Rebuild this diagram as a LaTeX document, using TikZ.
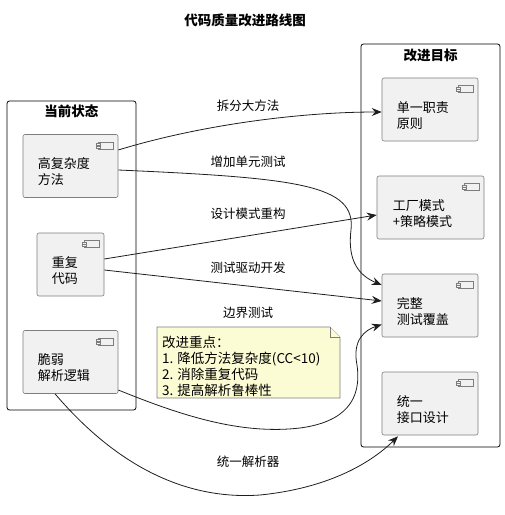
\documentclass[tikz,border=0pt]{standalone}
\usepackage{fontspec}
\setmainfont{Noto Sans CJK SC}
\usetikzlibrary{arrows.meta, positioning, calc}

\definecolor{compfill}{RGB}{241,241,241}
\definecolor{compline}{RGB}{125,125,125}
\definecolor{notefill}{RGB}{252,252,212}
\definecolor{noteline}{RGB}{125,125,125}
\definecolor{edgecol}{RGB}{30,30,30}

\begin{document}
\begin{tikzpicture}[x=1pt, y=-1pt,
  pkg/.style={draw=black, line width=0.8pt, rounded corners=2.5pt, inner sep=0pt},
  comp/.style={draw=compline, fill=compfill, line width=0.6pt, rounded corners=2pt, minimum height=63pt, inner sep=0pt},
  ctext/.style={anchor=west, align=left, inner sep=0pt, font=\fontsize{13}{16}\selectfont},
  lbl/.style={inner sep=0pt, font=\fontsize{12.5}{15}\selectfont},
  ttl/.style={inner sep=0pt, font=\fontsize{13.5}{16}\selectfont\bfseries},
  flow/.style={-{Stealth[length=10pt, width=8pt, inset=3.5pt]}, draw=edgecol, line width=0.8pt},
  notebox/.style={draw=noteline, fill=notefill, line width=0.6pt},
  compicon/.pic={
    \draw[compline, fill=compfill, line width=0.5pt] (-20,8) rectangle (-5,15);
    \draw[compline, fill=compfill, line width=0.5pt] (-22,9.5) rectangle (-18,11.5);
    \draw[compline, fill=compfill, line width=0.5pt] (-22,12) rectangle (-18,14);
  }
]
\useasboundingbox (0,0) rectangle (505,515);

\node[ttl] (title) at (245,20) {代码质量改进路线图};

% packages
\node[pkg, minimum width=129pt, minimum height=309pt] (current) at (71.5,255.5) {};
\node[ttl] (currenttitle) at (71.5,111) {当前状态};
\node[pkg, minimum width=139pt, minimum height=403pt] (goal) at (430.5,245.5) {};
\node[ttl] (goaltitle) at (430.5,55) {改进目标};

% current state
\node[comp, minimum width=95pt] (complex) at (70.5,166) {};
\pic at (complex.north east) {compicon};
\node[ctext] (complextext) at ([xshift=15pt, yshift=-6pt]complex.west) {高复杂度\\方法};

\node[comp, minimum width=67pt] (dup) at (70.5,264.5) {};
\pic at (dup.north east) {compicon};
\node[ctext] (duptext) at ([xshift=15pt, yshift=-6pt]dup.west) {重复\\代码};

\node[comp, minimum width=95pt] (parse) at (70.5,362) {};
\pic at (parse.north east) {compicon};
\node[ctext] (parsetext) at ([xshift=15pt, yshift=-6pt]parse.west) {脆弱\\解析逻辑};

% goals
\node[comp, minimum width=96pt] (srp) at (430,109.5) {};
\pic at (srp.north east) {compicon};
\node[ctext] (srptext) at ([xshift=15pt, yshift=-6pt]srp.west) {单一职责\\原则};

\node[comp, minimum width=107pt] (factory) at (430.5,207.5) {};
\pic at (factory.north east) {compicon};
\node[ctext] (factorytext) at ([xshift=16pt, yshift=-6pt]factory.west) {工厂模式\\+策略模式};

\node[comp, minimum width=96pt] (test) at (430,305.5) {};
\pic at (test.north east) {compicon};
\node[ctext] (testtext) at ([xshift=15pt, yshift=-6pt]test.west) {完整\\测试覆盖};

\node[comp, minimum width=96pt] (iface) at (430,403.5) {};
\pic at (iface.north east) {compicon};
\node[ctext] (ifacetext) at ([xshift=15pt, yshift=-6pt]iface.west) {统一\\接口设计};

% note
\draw[notebox] (157,327) -- (330,327) -- (340,337) -- (340,398) -- (157,398) -- cycle;
\draw[notebox] (330,327) -- (330,337) -- (340,337);
\node[ctext, font=\fontsize{13.5}{16}\selectfont] (note) at (162,366) {改进重点：\\1. 降低方法复杂度(CC<10)\\2. 消除重复代码\\3. 提高解析鲁棒性};

% connections
\draw[flow] ([yshift=16pt]complex.east) .. controls (200,125) and (300,112) .. ([yshift=-2.5pt]srp.west);
\draw[flow] ([yshift=-4pt]complex.east) .. controls (300,178) and (356,185) .. (351,230)
  .. controls (347,262) and (360,276) .. ([yshift=20.5pt]test.west);
\draw[flow] ([yshift=5.5pt]dup.east) -- ([yshift=-7.5pt]factory.west);
\draw[flow] ([yshift=-5.5pt]dup.east) -- ([yshift=4.5pt]test.west);
\draw[flow] ([yshift=-28pt]parse.east) .. controls (180,415) and (240,435) .. (300,428)
  .. controls (345,422) and (362,400) .. (357,365)
  .. controls (352,340) and (365,330) .. ([yshift=-19pt]test.west);
\draw[flow] ([xshift=-15.5pt]parse.south) .. controls (120,470) and (190,500) .. (260,495)
  .. controls (330,488) and (372,462) .. ([xshift=-32pt, yshift=-1pt]iface.south);

% labels
\node[lbl] (lsplit) at (248,106) {拆分大方法};
\node[lbl] (lunit) at (248,162) {增加单元测试};
\node[lbl] (lpattern) at (248,214) {设计模式重构};
\node[lbl] (ltdd) at (248,268) {测试驱动开发};
\node[lbl] (lbound) at (248,313) {边界测试};
\node[lbl] (lparser) at (248,462) {统一解析器};
\end{tikzpicture}
\end{document}
